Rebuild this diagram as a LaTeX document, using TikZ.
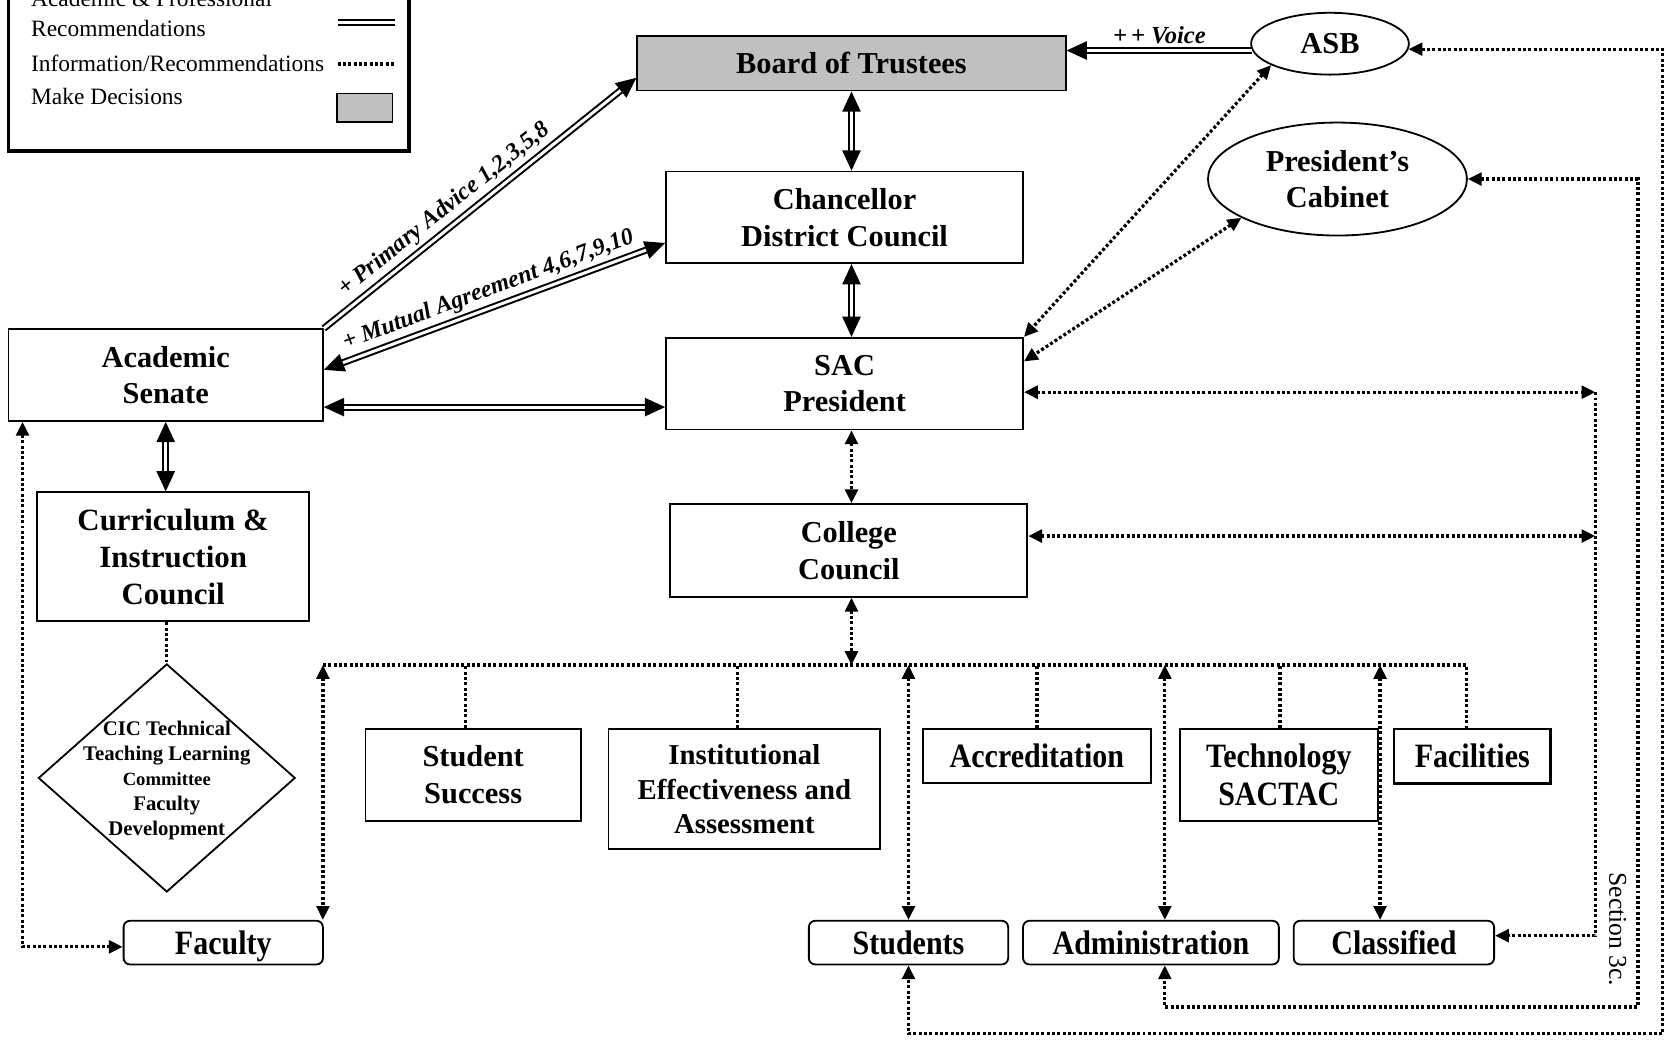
\documentclass[tikz,border=0pt]{standalone}
\usepackage{fontspec}
\setmainfont{Liberation Serif}
\newfontfamily\narrowfont{Liberation Serif}[FakeStretch=0.88]
\usetikzlibrary{arrows.meta,calc,shapes.geometric}
\definecolor{decision}{RGB}{192,192,192}
\begin{document}
\begin{tikzpicture}[x=1pt,y=-1pt,
  boxfont/.style={font=\fontsize{28.5}{34.5}\selectfont\bfseries},
  narrowbox/.style={font=\fontsize{32}{35}\selectfont\narrowfont\bfseries},
  box/.style={draw, line width=1.7pt, inner sep=0pt, align=center, boxfont},
  oval/.style={box, ellipse},
  group/.style={box, rounded corners=6pt, narrowbox, text height=24.5pt, text depth=2.5pt},
  dbl/.style={double, double distance=2.8pt, line width=1.9pt,
    >={Triangle[length=19pt,width=17pt]}},
  dot/.style={line width=3pt, dash pattern=on 2.8pt off 2.2pt,
    >={Triangle[length=13pt,width=12pt]}},
  lab/.style={font=\fontsize{22.5}{22.5}\selectfont\bfseries\itshape, inner sep=1pt},
  legtext/.style={font=\fontsize{22}{28}\selectfont, anchor=base west, inner sep=0pt}
]
\useasboundingbox (0,0) rectangle (1568,978);

% ---- legend ----
\node[draw, line width=3.7pt, minimum width=376pt, minimum height=160pt, inner sep=0pt] (legend) at (196,62) {};
\node[legtext] (lg1) at (29,6.3) {Academic \& Professional};
\node[legtext] (lg2) at (29,34.4) {Recommendations};
\node[legtext] (lg3) at (29,67) {Information/Recommendations};
\node[legtext] (lg4) at (29,97.6) {Make Decisions};
\coordinate (ld1) at (317,20.7);
\coordinate (ld2) at (371,20.7);
\coordinate (lt1) at (317,60);
\coordinate (lt2) at (371,60);
\draw[dbl] (ld1) -- (ld2);
\draw[dot] (lt1) -- (lt2);
\node[draw, line width=1.7pt, fill=decision, minimum width=52pt, minimum height=26.5pt, inner sep=0pt] (lgbox) at (342.3,100.9) {};

% ---- governance boxes ----
\node[box, fill=decision, minimum width=402pt, minimum height=51pt] (board) at (799,59.5) {Board of Trustees};
\node[oval, minimum width=148pt, minimum height=58pt] (asb) at (1248,41) {ASB};
\node[oval, minimum width=243pt, minimum height=106pt] (cab) at (1255,168) {President’s\\Cabinet};
\node[box, minimum width=335pt, minimum height=86pt] (chanc) at (792.5,204) {Chancellor\\District Council};
\node[box, minimum width=335pt, minimum height=86pt] (sac) at (792.5,360) {SAC\\President};
\node[box, minimum width=335pt, minimum height=87pt] (cc) at (796.5,516.5) {College\\Council};
\node[box, minimum width=295pt, minimum height=86pt] (senate) at (155.5,352) {Academic\\Senate};
\node[box, minimum width=255pt, minimum height=121pt, font=\fontsize{29}{35}\selectfont\bfseries] (cic) at (162.5,522.5) {Curriculum \&\\Instruction\\Council};
\node[draw, diamond, line width=1.7pt, minimum width=241pt, minimum height=214pt, inner sep=0pt] (cicd) at (156.5,730) {};
\node[align=center, inner sep=0pt, font=\fontsize{19.5}{23.5}\selectfont\bfseries] (cictext) at ($(cicd.center)+(0,2)$)
  {CIC Technical\\Teaching Learning\\{\fontsize{17.5}{23.5}\selectfont Committee}\\Faculty\\Development};

% ---- committees ----
\node[box, minimum width=202pt, minimum height=86pt] (ss) at (444,727) {Student\\Success};
\node[box, minimum width=255pt, minimum height=113pt, font=\fontsize{27}{32.5}\selectfont\bfseries] (iea) at (698.5,740.5) {Institutional\\Effectiveness and\\Assessment};
\node[box, narrowbox, minimum width=214pt, minimum height=51pt] (accr) at (973,709.5) {Accreditation};
\node[box, narrowbox, minimum width=186pt, minimum height=86pt] (tech) at (1200,727) {Technology\\SACTAC};
\node[box, narrowbox, line width=2.4pt, minimum width=147pt, minimum height=51pt] (fac) at (1381.5,709.5) {Facilities};

% ---- constituent groups ----
\node[group, minimum width=187pt, minimum height=41pt] (faculty) at (209.5,884.5) {Faculty};
\node[group, minimum width=187pt, minimum height=41pt] (students) at (852.5,884.5) {Students};
\node[group, minimum width=240pt, minimum height=41pt] (admin) at (1080,884.5) {Administration};
\node[group, minimum width=188pt, minimum height=41pt] (classified) at (1308,884.5) {Classified};

\node[rotate=-90, inner sep=0pt, font=\fontsize{24}{24}\selectfont] (sec) at (1518,872) {Section 3c.};

% ---- routing points ----
\coordinate (busL) at (303,624);
\coordinate (busR) at (1376,624);
\coordinate (colA) at (1497,0);
\coordinate (colB) at (1537,0);
\coordinate (colC) at (1560,0);
\coordinate (rowB) at (0,945);
\coordinate (rowC) at (0,970);
\coordinate (senE) at ($(senate.east)+(0,30)$);
\coordinate (senM) at ($(senate.east)+(0,-5)$);
\coordinate (senSW) at ($(senate.south west)+(14,0)$);
\coordinate (boardW) at ($(board.west)+(0,13.5)$);
\coordinate (chancW) at ($(chanc.west)+(0,24)$);
\coordinate (faW) at ($(faculty.west)+(0,4)$);
\coordinate (ssN) at ($(ss.north)+(-7,0)$);
\coordinate (ieaN) at ($(iea.north)+(-6.5,0)$);
\coordinate (techN) at ($(tech.north)+(1,0)$);
\coordinate (adN) at ($(admin.north)+(13,0)$);
\coordinate (adS) at ($(admin.south)+(13,0)$);
\coordinate (clN) at ($(classified.north)+(-13,0)$);
\coordinate (clE) at ($(classified.east)+(0,-6.5)$);
\coordinate (sacNE) at ($(sac.north east)+(0,23)$);
\coordinate (sacR) at ($(sac.east)+(0,8)$);
\coordinate (ccR) at ($(cc.east)+(0,-13.5)$);

% ---- academic & professional recommendations ----
\draw[dbl,<->] (board.south) -- (board.south |- chanc.north);
\draw[dbl,<->] (board.south |- chanc.south) -- (board.south |- sac.north);
\draw[dbl,->] (senate.north east) -- (boardW)
  node[pos=.42, sloped, above=4pt, lab] {+ Primary Advice 1,2,3,5,8};
\draw[dbl,<->] (senM) -- (chancW)
  node[pos=.5, sloped, above=4pt, lab] {+ Mutual Agreement 4,6,7,9,10};
\draw[dbl,<->] (senE) -- (senE -| sac.west);
\draw[dbl,<->] (senate.south) -- (senate.south |- cic.north);
\draw[dbl,->] (asb.185) -- (asb.185 -| board.east)
  node[midway, above=4pt, lab, font=\fontsize{23}{23}\selectfont\bfseries\itshape] {+\,+ Voice};

% ---- information / recommendations ----
\draw[dot] (cicd.north |- cic.south) -- (cicd.north);
\draw[dot,<->] (senSW) |- (faW);
\draw[dot,<->] (board.south |- sac.south) -- (board.south |- cc.north);
\draw[dot,<->] (board.south |- cc.south) -- (board.south |- busL);
\draw[dot] (busL) -- (busR) -- (busR |- fac.north);
\draw[dot,<->] (busL) -- (busL |- faculty.north);
\draw[dot] (ssN) -- (ssN |- busL);
\draw[dot] (ieaN) -- (ieaN |- busL);
\draw[dot] (accr.north) -- (accr.north |- busL);
\draw[dot] (techN) -- (techN |- busL);
\draw[dot,<->] (busL -| students.north) -- (students.north);
\draw[dot,<->] (adN |- busL) -- (adN);
\draw[dot,<->] (clN |- busL) -- (clN);
\draw[dot,<->] (asb.200) -- (sac.north east);
\draw[dot,<->] (cab.202) -- (sacNE);
\draw[dot,<->] (sacR) -- (sacR -| colA);
\draw[dot,<->] (ccR) -- (ccR -| colA);
\draw[dot,->] (sacR -| colA) |- (clE);
\draw[dot,<->] (cab.east) -| (colB |- rowB) -| (adS);
\draw[dot,<->] (asb.-4) -| (colC |- rowC) -| (students.south);
\end{tikzpicture}
\end{document}
